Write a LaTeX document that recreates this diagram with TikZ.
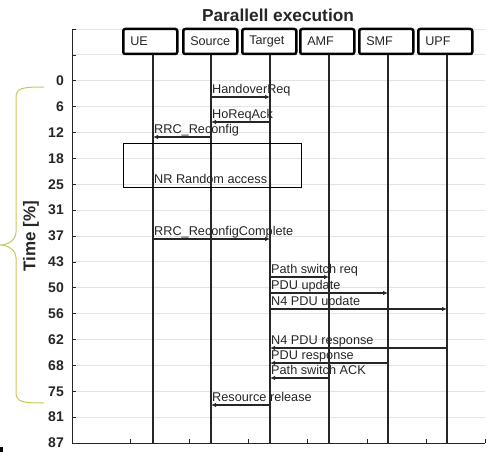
\documentclass[tikz,border=0pt]{standalone}
\usepackage{fontspec}
\setmainfont{Liberation Sans}
\usetikzlibrary{arrows.meta}
\definecolor{ink}{HTML}{262626}
\definecolor{gridc}{HTML}{E3E3E3}
\definecolor{bracec}{HTML}{C8C85A}
\tikzset{
  lifebox/.style={draw=black, line width=2.5pt, rounded corners=2pt, fill=white,
    minimum height=25pt, text width=40pt, inner xsep=7pt, inner ysep=0pt, align=left,
    anchor=west, font=\fontsize{12.6}{14}\selectfont, text=ink},
  lifeline/.style={draw=black!85, line width=1.5pt},
  msg/.style={draw=black!85, line width=1.1pt, -{Latex[length=5pt,width=4.5pt]}},
  msglabel/.style={anchor=base west, inner sep=0pt, font=\fontsize{12.7}{14}\selectfont, text=ink},
  ticklabel/.style={anchor=east, inner sep=0pt, font=\bfseries\fontsize{14}{16}\selectfont, text=ink},
  gridline/.style={draw=gridc, line width=0.9pt},
}
\begin{document}
\begin{tikzpicture}[x=1pt, y=-1pt]
\useasboundingbox (0,0) rectangle (487,452);
% grid
\foreach \k in {0,...,15} {
  \draw[gridline] (72,{29+25.875*\k}) -- (485,{29+25.875*\k});
  \draw[ink, line width=0.6pt] (72,{29+25.875*\k}) -- (76,{29+25.875*\k});
}
% axes
\draw[ink, line width=0.8pt] (72,29) -- (72,443) -- (485,443);
\foreach \x in {130,189,248,307,367,426,485} {
  \draw[ink, line width=0.6pt] (\x,443) -- (\x,439);
}
% tick labels
\foreach \v [count=\i from 2] in {0,6,12,18,25,31,37,43,50,56,62,68,75,81,87} {
  \node[ticklabel] at (64,{29+25.875*\i}) {\v};
}
% title
\node[font=\bfseries\fontsize{17.3}{19}\selectfont, text=ink] (title) at (278,15) {Parallell execution};
% axis label
\node[rotate=90, font=\bfseries\fontsize{17}{19}\selectfont, text=ink] (ylab) at (31,236) {Time [\%]};
% brace
\draw[bracec, line width=1pt] (44,87) .. controls (22,87) and (16,88) .. (16,98)
  -- (16,232) .. controls (16,240) and (8,245) .. (0,245)
  .. controls (8,245) and (16,250) .. (16,258)
  -- (16,392) .. controls (16,402) and (22,403) .. (44,403);
% lifeline coordinates
\coordinate (ueT) at (153,54);  \coordinate (ueB) at (153,443);
\coordinate (srcT) at (211,54); \coordinate (srcB) at (211,443);
\coordinate (tgtT) at (270,54); \coordinate (tgtB) at (270,443);
\coordinate (amfT) at (329,54); \coordinate (amfB) at (329,443);
\coordinate (smfT) at (388,54); \coordinate (smfB) at (388,443);
\coordinate (upfT) at (447,54); \coordinate (upfB) at (447,443);
\draw[lifeline] (ueT) -- (ueB);
\draw[lifeline] (srcT) -- (srcB);
\draw[lifeline] (tgtT) -- (tgtB);
\draw[lifeline] (amfT) -- (amfB);
\draw[lifeline] (smfT) -- (smfB);
\draw[lifeline] (upfT) -- (upfB);
% boxes
\node[lifebox] (UE) at (122,41.5) {UE};
\node[lifebox] (Source) at (182,41.5) {Source};
\node[lifebox] (Target) at (241,41.5) {Target};
\node[lifebox] (AMF) at (299,41.5) {AMF};
\node[lifebox] (SMF) at (358,41.5) {SMF};
\node[lifebox] (UPF) at (417,41.5) {UPF};
% NR random access box
\draw[black, line width=0.9pt] (123,143) rectangle (301,187);
\node[msglabel] (nra) at (154,183.5) {NR Random access};
% messages
\draw[msg] (srcT |- 0,97) -- (tgtT |- 0,97);
\node[msglabel] (m1) at (212,93.5) {HandoverReq};
\draw[msg] (tgtT |- 0,122) -- (srcT |- 0,122);
\node[msglabel] (m2) at (212,118.5) {HoReqAck};
\draw[msg] (srcT |- 0,137) -- (ueT |- 0,137);
\node[msglabel] (m3) at (154,133.5) {RRC\_Reconfig};
\draw[msg] (ueT |- 0,239) -- (tgtT |- 0,239);
\node[msglabel] (m4) at (154,235.5) {RRC\_ReconfigComplete};
\draw[msg] (tgtT |- 0,277) -- (amfT |- 0,277);
\node[msglabel] (m5) at (271,273.5) {Path switch req};
\draw[msg] (tgtT |- 0,293) -- (smfT |- 0,293);
\node[msglabel] (m6) at (271,289.5) {PDU update};
\draw[msg] (tgtT |- 0,309) -- (upfT |- 0,309);
\node[msglabel] (m7) at (271,305.5) {N4 PDU update};
\draw[msg] (upfT |- 0,348) -- (tgtT |- 0,348);
\node[msglabel] (m8) at (271,344.5) {N4 PDU response};
\draw[msg] (smfT |- 0,363) -- (tgtT |- 0,363);
\node[msglabel] (m9) at (271,359.5) {PDU response};
\draw[msg] (amfT |- 0,378) -- (tgtT |- 0,378);
\node[msglabel] (m10) at (271,374.5) {Path switch ACK};
\draw[msg] (tgtT |- 0,405) -- (srcT |- 0,405);
\node[msglabel] (m11) at (212,401.5) {Resource release};
% corner mark
\fill[black] (0,447) rectangle (3,452);
\end{tikzpicture}
\end{document}
